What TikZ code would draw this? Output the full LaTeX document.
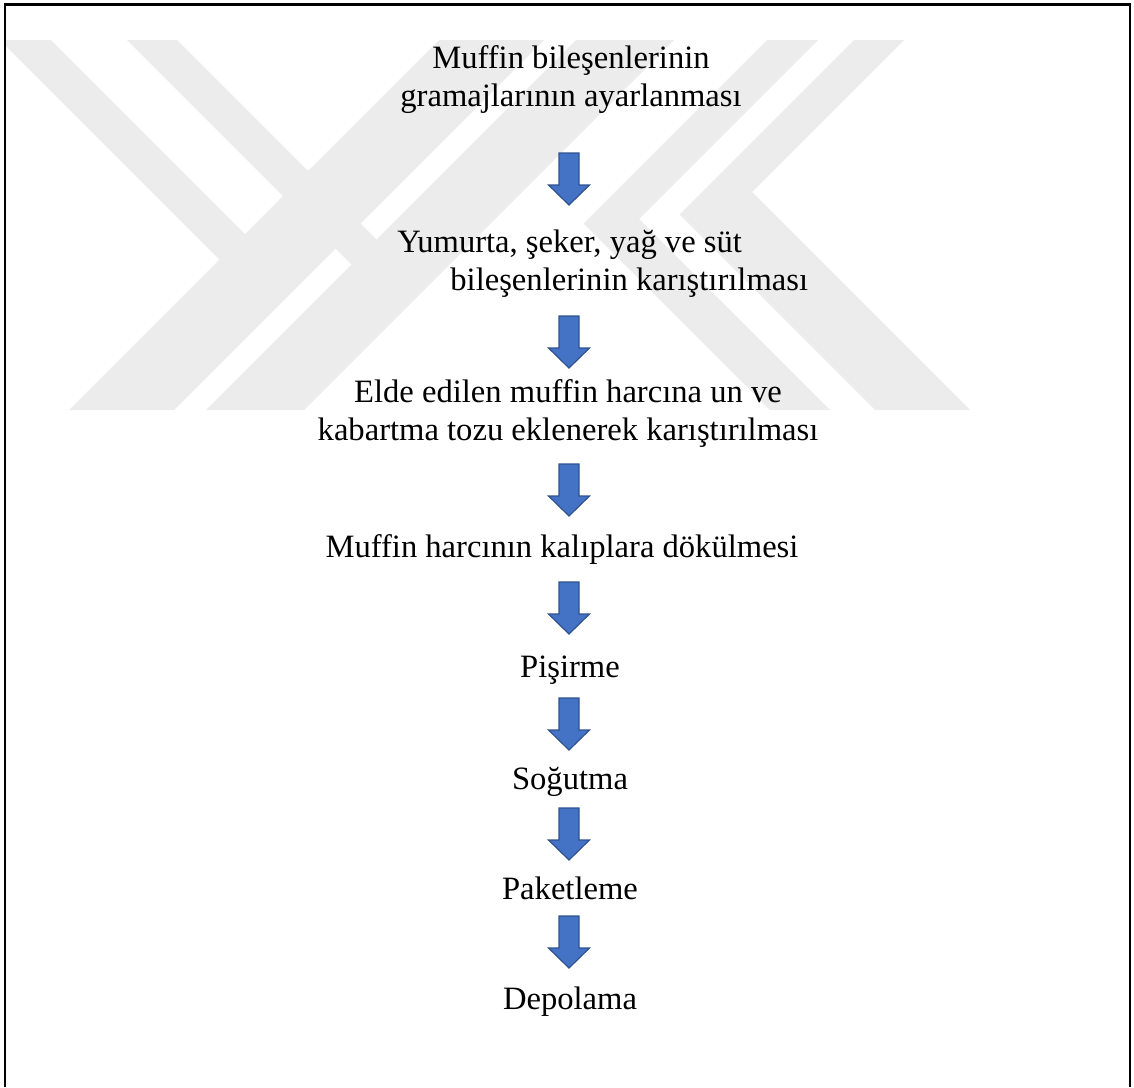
\documentclass[tikz,border=0pt]{standalone}
\usepackage{fontspec}
\setmainfont{Liberation Serif}
\usepackage{tikz}
\usetikzlibrary{positioning}

\definecolor{wmgray}{RGB}{236,236,236}
\definecolor{arrowfill}{RGB}{68,114,196}
\definecolor{arrowline}{RGB}{47,82,143}

\tikzset{
  downarrow/.pic={
    \path[fill=arrowfill,draw=arrowline,line width=0.6pt]
      (-10,-26) -- (10,-26) -- (10,6) -- (20.5,6) -- (0,26) -- (-20.5,6) -- (-10,6) -- cycle;
  }
}

\begin{document}
\begin{tikzpicture}[x=0.5pt,y=-0.5pt]
		\tikzstyle{stage}=[font=\fontsize{16.3}{19}\selectfont,align=center,inner sep=0pt]

		\useasboundingbox (0,0) rectangle (1134,1087);

		% watermark
		\begin{scope}
			\clip (5,4.5) rectangle (1130,1087);
			\fill[wmgray] (0,40) -- (51,40) -- (286,275) -- (235,275) -- cycle;
			\fill[wmgray] (69,410) -- (174,410) -- (544,40) -- (439,40) -- cycle;
			\fill[wmgray] (127,40) -- (177,40) -- (412,275) -- (362,275) -- cycle;
			\fill[wmgray] (206,410) -- (304,410) -- (674,40) -- (576,40) -- cycle;
			\fill[wmgray] (767,40) -- (818,40) -- (639,219) -- (830,410) -- (770,410) -- (583.5,223.5) -- cycle;
			\fill[wmgray] (854,40) -- (904,40) -- (752,192) -- (970,410) -- (875,410) -- (679.5,214.5) -- cycle;
		\end{scope}

		% frame
		\draw[line width=1.25pt] (5,1087) -- (5,4.5) -- (1130,4.5) -- (1130,1087);

		\node[stage] (S1) at (571,80)	{Muffin bileşenlerinin\\gramajlarının ayarlanması};
		\node[stage,anchor=west,align=left] (S2) at (397,264)
			{Yumurta, şeker, yağ ve süt\\\hspace*{26.5pt}bileşenlerinin karıştırılması};
		\node[stage] (S3) at (568,413)	{Elde edilen muffin harcına un ve\\kabartma tozu eklenerek karıştırılması};
		\node[stage] (S4) at (562,549)	{Muffin harcının kalıplara dökülmesi};
		\node[stage] (S5) at (570,670)	{Pişirme};
		\node[stage] (S6) at (570,782)	{Soğutma};
		\node[stage] (S7) at (570,888)	{Paketleme};
		\node[stage] (S8) at (570,1002)	{Depolama};

		\pic at (569,179) {downarrow};
		\pic at (569,342) {downarrow};
		\pic at (569,490) {downarrow};
		\pic at (569,608) {downarrow};
		\pic at (569,724) {downarrow};
		\pic at (569,834) {downarrow};
		\pic at (569,942) {downarrow};

	\end{tikzpicture}
\end{document}
